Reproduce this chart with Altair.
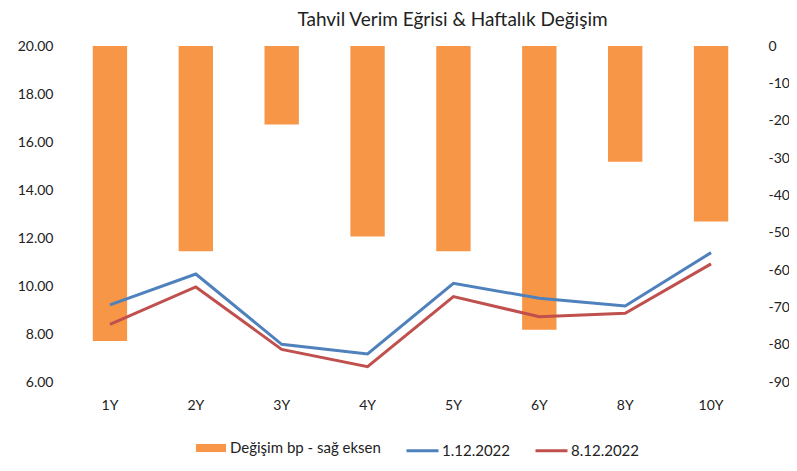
import altair as alt
import pandas as pd

tenors = ["1Y", "2Y", "3Y", "4Y", "5Y", "6Y", "8Y", "10Y"]
change_bp = [-79, -55, -21, -51, -55, -76, -31, -47]
yield_0112 = [9.21, 10.50, 7.57, 7.17, 10.11, 9.49, 9.17, 11.39]
yield_0812 = [8.40, 9.96, 7.36, 6.64, 9.56, 8.72, 8.86, 10.92]

bar_name = "Değişim bp - sağ eksen"
line_names = ["1.12.2022", "8.12.2022"]

FONT = "Lato"

bars_df = pd.DataFrame({"tenor": tenors, "bp": change_bp, "series": bar_name})
lines_df = pd.concat([
    pd.DataFrame({"tenor": tenors, "yield": yield_0112, "series": line_names[0]}),
    pd.DataFrame({"tenor": tenors, "yield": yield_0812, "series": line_names[1]}),
])

x_enc = alt.X(
    "tenor:N", sort=tenors, title=None,
    scale=alt.Scale(paddingInner=0.6, paddingOuter=0.3),
    axis=alt.Axis(labelAngle=0, domain=False, ticks=False, labelPadding=16,
                  labelFontSize=14, labelFont=FONT, labelColor="#222222"),
)

bars = alt.Chart(bars_df).mark_bar(color="#F79646").encode(
    x=x_enc,
    y=alt.Y("bp:Q", scale=alt.Scale(domain=[-90, 0], nice=False, zero=False), title=None,
            axis=alt.Axis(orient="right", values=list(range(0, -91, -10)), grid=False,
                          labelExpr="replace(datum.label, '\u2212', '-')",
                          domain=False, ticks=False, labelPadding=14, labelFontSize=14,
                          labelFont=FONT, labelColor="#222222", labelAlign="left")),
    fill=alt.Fill("series:N", scale=alt.Scale(domain=[bar_name], range=["#F79646"]),
                  legend=alt.Legend(title=None, orient="none", legendX=129, legendY=387,
                                    symbolType="M-1,-0.27H1V0.27H-1Z", symbolSize=900,
                                    symbolStrokeWidth=0, labelFontSize=15, labelFont=FONT,
                                    labelColor="#222222", labelOffset=4)),
)

lines = alt.Chart(lines_df).mark_line(strokeWidth=3).encode(
    x=x_enc,
    y=alt.Y("yield:Q", scale=alt.Scale(domain=[6, 20], nice=False, zero=False), title=None,
            axis=alt.Axis(orient="left", values=list(range(6, 21, 2)), format=".2f", grid=False,
                          domain=False, ticks=False, labelPadding=14, labelFontSize=14,
                          labelFont=FONT, labelColor="#222222")),
    stroke=alt.Stroke("series:N", scale=alt.Scale(domain=line_names, range=["#4F81BD", "#C0504D"]),
                      legend=alt.Legend(title=None, orient="none", legendX=338, legendY=387,
                                        direction="horizontal", symbolType="stroke",
                                        symbolSize=1024, symbolStrokeWidth=3, columnPadding=19,
                                        labelFontSize=15, labelFont=FONT, labelColor="#222222",
                                        labelOffset=2)),
)

chart = alt.layer(bars, lines).resolve_scale(
    y="independent", fill="independent", stroke="independent"
).properties(
    width=687, height=336,
    autosize=alt.AutoSizeParams(type="none"),
    padding={"left": 59, "top": 38, "right": 35, "bottom": 76},
    title=alt.TitleParams("Tahvil Verim Eğrisi & Haftalık Değişim", font=FONT, fontSize=19,
                          fontWeight="normal", color="#222222", anchor="middle", dx=42, offset=9),
).configure_view(stroke=None)

chart.save("out.html", embed_options={"renderer": "svg", "actions": False})
